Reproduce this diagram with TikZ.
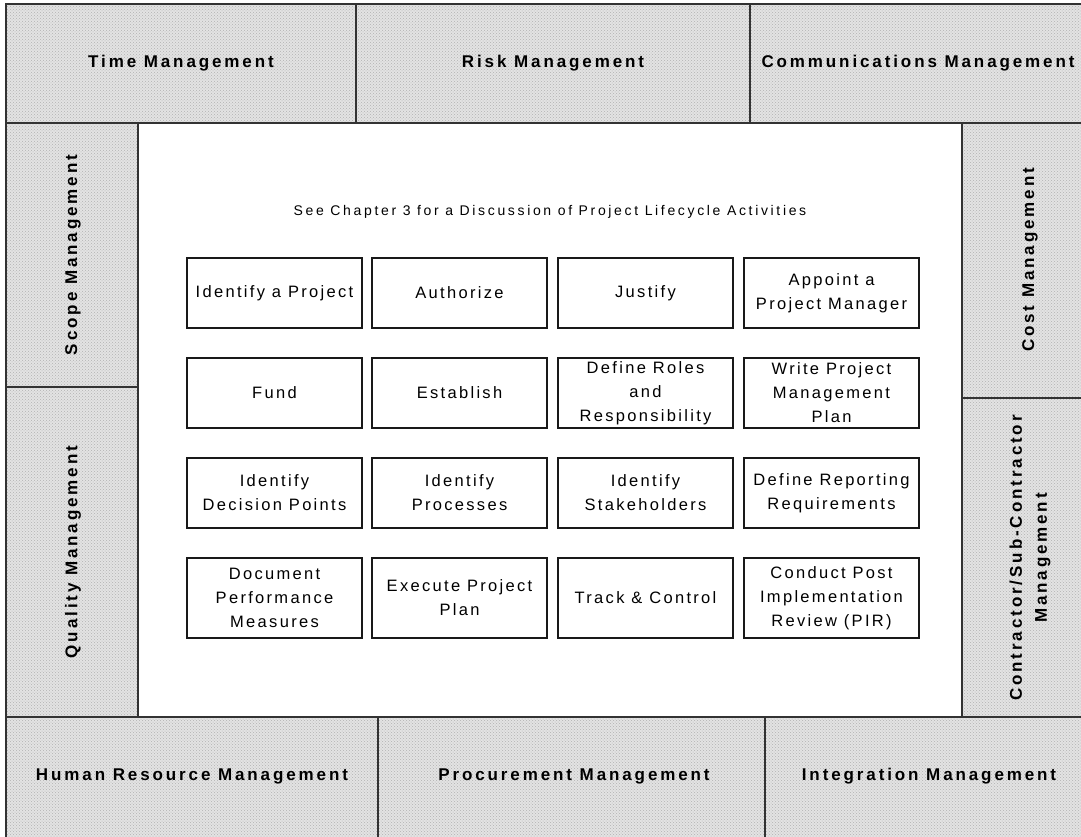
\documentclass[tikz,border=0pt]{standalone}
\usepackage{fontspec}
\setmainfont{Liberation Sans}
\newfontfamily\taskfam[LetterSpace=14]{Liberation Sans}
\newfontfamily\zonefam[LetterSpace=17]{Liberation Sans}
\newfontfamily\headfam[LetterSpace=19]{Liberation Sans}
\usetikzlibrary{patterns}

\tikzset{
  zone/.style={draw=black!80, line width=1.6pt,
    preaction={fill=black!11},
    pattern=crosshatch dots, pattern color=black!30},
  zonelabel/.style={font=\zonefam\bfseries\fontsize{17}{25}\selectfont,
    align=center, inner sep=0pt},
  task/.style={draw=black!90, line width=1.1pt, fill=white,
    minimum width=175pt, minimum height=70pt, align=center, inner sep=0pt,
    font=\taskfam\fontsize{16.5}{24}\selectfont},
  tall/.style={minimum height=80pt},
  heading/.style={font=\headfam\fontsize{14}{16}\selectfont, inner sep=0pt},
}

\begin{document}
\begin{tikzpicture}[x=1pt, y=-1pt]
  \useasboundingbox (0,0) rectangle (1081,836);
  \clip (0,0) rectangle (1081,836);

  % knowledge-area frame
  \path[zone] (6,4) rectangle (356,123);
  \path[zone] (356,4) rectangle (750,123);
  \path[zone] (750,4) rectangle (1095,123);
  \path[zone] (6,123) rectangle (138,387);
  \path[zone] (6,387) rectangle (138,717);
  \path[zone] (962,123) rectangle (1095,398);
  \path[zone] (962,398) rectangle (1095,717);
  \path[zone] (6,717) rectangle (378,842);
  \path[zone] (378,717) rectangle (765,842);
  \path[zone] (765,717) rectangle (1095,842);

  \node[zonelabel] (time) at (181,63) {Time Management};
  \node[zonelabel] (risk) at (553,63) {Risk Management};
  \node[zonelabel] (comm) at (918,63) {Communications Management};
  \node[zonelabel, rotate=90] (scope) at (73,255) {Scope Management};
  \node[zonelabel, rotate=90] (quality) at (73,552) {Quality Management};
  \node[zonelabel, rotate=90] (cost) at (1030,260) {Cost Management};
  \node[zonelabel, rotate=90] (contractor) at (1030,558) {Contractor/Sub-Contractor\\Management};
  \node[zonelabel] (hr) at (192,776) {Human Resource Management};
  \node[zonelabel] (proc) at (574,776) {Procurement Management};
  \node[zonelabel] (integ) at (929,776) {Integration Management};

  % lifecycle activities
  \node[heading] (head) at (550,212) {See Chapter 3 for a Discussion of Project Lifecycle Activities};

  \node[task] (a1) at (274.5,293) {Identify a Project};
  \node[task] (a2) at (459.5,293) {Authorize};
  \node[task] (a3) at (645.5,293) {Justify};
  \node[task] (a4) at (831.5,293) {Appoint a\\Project Manager};

  \node[task] (b1) at (274.5,393) {Fund};
  \node[task] (b2) at (459.5,393) {Establish};
  \node[task] (b3) at (645.5,393) {Define Roles\\and\\Responsibility};
  \node[task] (b4) at (831.5,393) {Write Project\\Management\\Plan};

  \node[task] (c1) at (274.5,493) {Identify\\Decision Points};
  \node[task] (c2) at (459.5,493) {Identify\\Processes};
  \node[task] (c3) at (645.5,493) {Identify\\Stakeholders};
  \node[task] (c4) at (831.5,493) {Define Reporting\\Requirements};

  \node[task, tall] (d1) at (274.5,598) {Document\\Performance\\Measures};
  \node[task, tall] (d2) at (459.5,598) {Execute Project\\Plan};
  \node[task, tall] (d3) at (645.5,598) {Track \& Control};
  \node[task, tall] (d4) at (831.5,598) {Conduct Post\\Implementation\\Review (PIR)};
\end{tikzpicture}
\end{document}
